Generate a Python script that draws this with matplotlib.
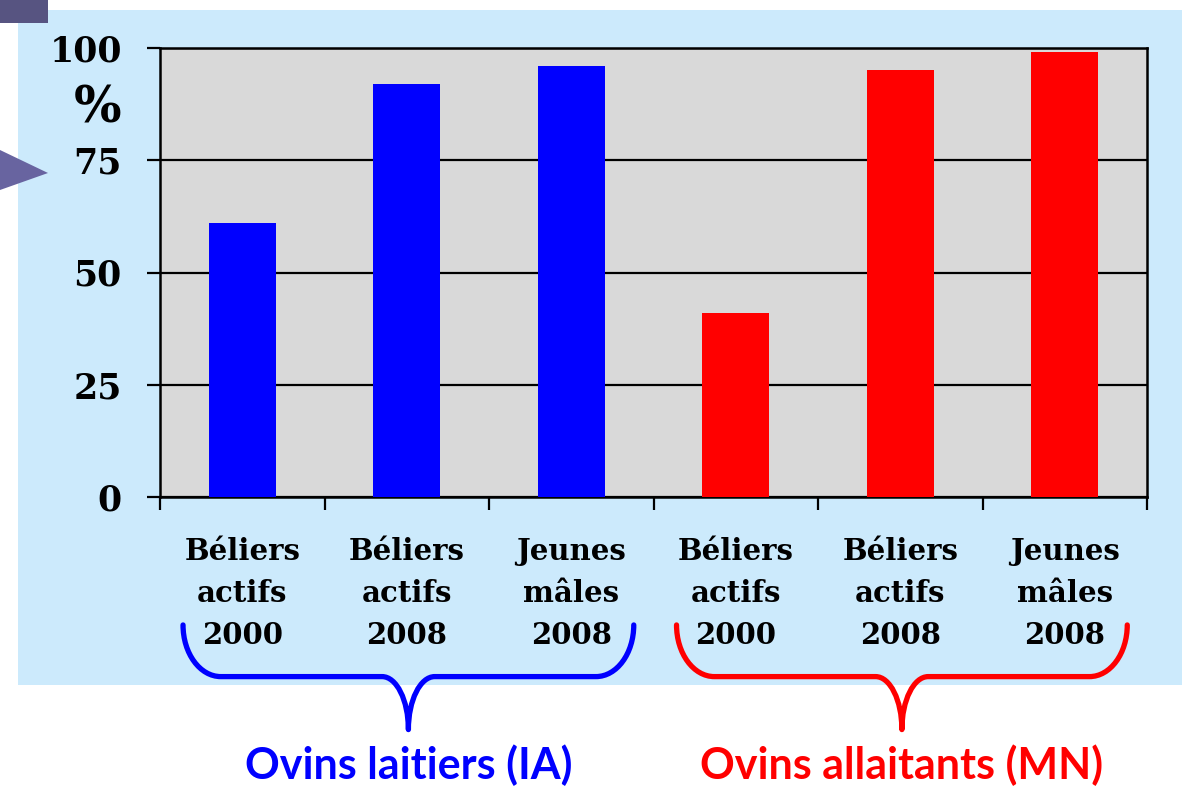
import numpy as np
import matplotlib.pyplot as plt
from matplotlib.path import Path
from matplotlib.patches import PathPatch, Rectangle, Polygon
import matplotlib.transforms as mtransforms

categories = ['Béliers\nactifs\n2000', 'Béliers\nactifs\n2008', 'Jeunes\nmâles\n2008',
              'Béliers\nactifs\n2000', 'Béliers\nactifs\n2008', 'Jeunes\nmâles\n2008']
values = [61, 92, 96, 41, 95, 99]
colors = ['#0000ff', '#0000ff', '#0000ff', '#ff0000', '#ff0000', '#ff0000']
groups = ['Ovins laitiers (IA)', 'Ovins allaitants (MN)']
group_colors = ['#0000ff', '#ff0000']
yticks = [0, 25, 50, 75, 100]

serif = 'DejaVu Serif'

fig = plt.figure(figsize=(11.82, 7.88), dpi=100)
fig.patch.set_facecolor('white')

# light blue slide panel and the bits of slide decoration top left
fig.patches.append(Rectangle((18 / 1182, 103 / 788), 1 - 18 / 1182, 675 / 788,
                             transform=fig.transFigure, facecolor='#cceafc',
                             edgecolor='none', zorder=0))
fig.patches.append(Rectangle((0, 1 - 23 / 788), 48 / 1182, 23 / 788,
                             transform=fig.transFigure, facecolor='#575481',
                             edgecolor='none', zorder=0))
fig.patches.append(Polygon([(0, 1 - 150 / 788), (48 / 1182, 1 - 173 / 788), (0, 1 - 190 / 788)],
                           closed=True, transform=fig.transFigure, facecolor='#6864a0',
                           edgecolor='none', zorder=0))

ax = fig.add_axes([160 / 1182, 291 / 788, 987 / 1182, 449 / 788])
ax.set_zorder(2)
ax.set_facecolor('#d9d9d9')
x = np.arange(len(values))
ax.bar(x, values, width=0.41, color=colors, zorder=3)

ax.set_xlim(-0.5, len(values) - 0.5)
ax.set_ylim(0, 100)
ax.set_yticks(yticks)
ax.set_yticklabels([str(v) for v in yticks], fontfamily=serif, fontweight='bold', fontsize=25)
ax.tick_params(axis='y', length=9.5, width=1.6, pad=18, direction='out')
ax.set_xticks(x)
ax.set_xticklabels(categories, fontfamily=serif, fontweight='bold', fontsize=21, linespacing=1.55)
ax.tick_params(axis='x', which='major', length=0, pad=29)
ax.set_xticks(np.arange(-0.5, len(values)), minor=True)
ax.tick_params(axis='x', which='minor', length=9, width=1.6, direction='out')

ax.yaxis.grid(True, color='black', lw=1.6, zorder=1)
for s in ax.spines.values():
    s.set_color('black')
    s.set_linewidth(1.8)

ax.text(-0.063, 86.5, '%', transform=mtransforms.blended_transform_factory(ax.transAxes, ax.transData),
        ha='center', va='center', fontfamily=serif, fontweight='bold', fontsize=36)

# braces below the categories, x in data, y in axes fraction
trans = mtransforms.blended_transform_factory(ax.transData, ax.transAxes)
k = 0.5523
yt, ym, yb = -0.285, -0.400, -0.518
half, rx, rx2 = 1.37, 0.23, 0.16
for gi, (name, col) in enumerate(zip(groups, group_colors)):
    xc = gi * 3 + 1.01
    x0, x1 = xc - half, xc + half
    verts = [
        (x0, yt),
        (x0, yt + k * (ym - yt)), (x0 + rx - k * rx, ym), (x0 + rx, ym),
        (xc - rx2, ym),
        (xc - rx2 + k * rx2, ym), (xc, yb + k * (ym - yb)), (xc, yb),
        (xc, yb + k * (ym - yb)), (xc + rx2 - k * rx2, ym), (xc + rx2, ym),
        (x1 - rx, ym),
        (x1 - rx + k * rx, ym), (x1, yt + k * (ym - yt)), (x1, yt),
    ]
    codes = [Path.MOVETO, Path.CURVE4, Path.CURVE4, Path.CURVE4, Path.LINETO,
             Path.CURVE4, Path.CURVE4, Path.CURVE4,
             Path.CURVE4, Path.CURVE4, Path.CURVE4, Path.LINETO,
             Path.CURVE4, Path.CURVE4, Path.CURVE4]
    ax.add_patch(PathPatch(Path(verts, codes), transform=trans, fill=False,
                           edgecolor=col, lw=3.8, capstyle='round', joinstyle='round',
                           clip_on=False))
    ax.text(xc, -0.598, name, transform=trans, ha='center', va='center',
            color=col, fontfamily='Lato', fontweight='bold', fontsize=31)

fig.savefig('out.png', dpi=100)
